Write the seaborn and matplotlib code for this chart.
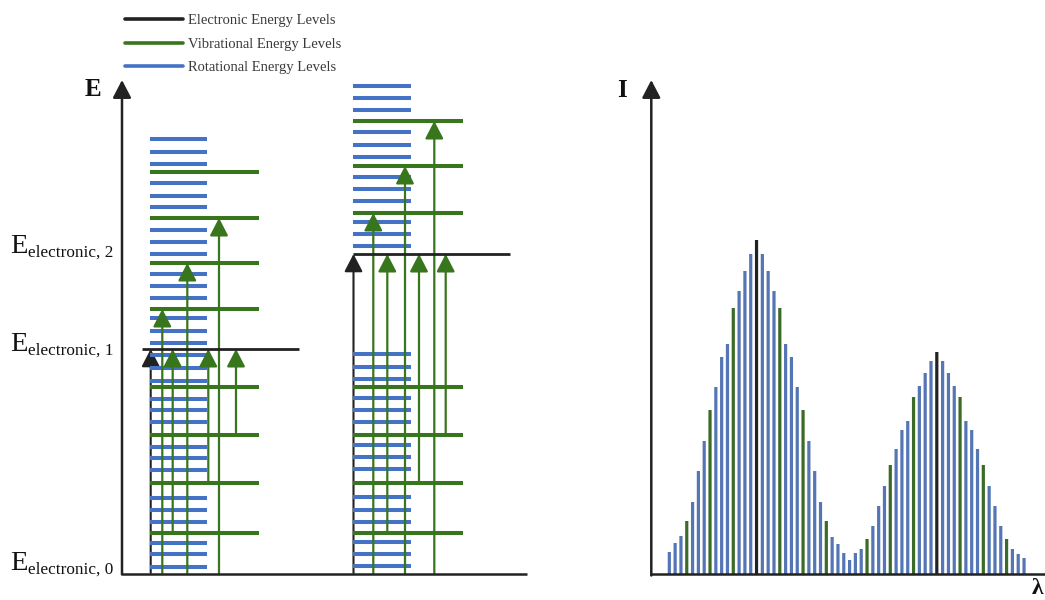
import numpy as np
import pandas as pd
import matplotlib
matplotlib.use("Agg")
import matplotlib.pyplot as plt
from matplotlib.lines import Line2D
import seaborn as sns

# ---------------- energy-level diagram data (arb. units, ground state = 0) ----------------
elec_levels = [0, 224, 319]                      # E_electronic,0 / 1 / 2
elec_names = ["electronic, 0", "electronic, 1", "electronic, 2"]
vib_ground = [40, 90, 138, 186]
vib_e1 = [264, 310, 355, 401]
vib_e2 = [360, 407, 452]
rot_ground_a = [6, 19, 30, 51, 63, 75, 103, 115, 126, 151, 163, 174, 192, 205, 218]
rot_e1 = [230, 242, 255, 275, 287, 299, 319, 331, 343, 366, 377, 390, 409, 421, 434]
rot_ground_b = [7, 19, 31, 51, 63, 76, 104, 116, 128, 151, 163, 175, 194, 206, 219]
rot_e2 = [327, 339, 351, 372, 384, 396, 416, 428, 441, 463, 475, 487]

# transitions (start energy, end energy)
trans_a_from_ground = [(0, 264), (0, 310), (0, 355)]
trans_a_to_e1 = [(40, 224), (90, 224), (138, 224)]
trans_b_from_ground = [(0, 360), (0, 407), (0, 452)]
trans_b_to_e2 = [(40, 319), (90, 319), (138, 319)]

# ---------------- spectrum data ----------------
intensity = [22, 31, 38, 53, 72, 103, 133, 164, 187, 217, 230, 266, 283, 303, 320, 334,
             320, 303, 283, 266, 230, 217, 187, 164, 133, 103, 72, 53,
             37, 30, 21, 14, 21, 25,
             35, 48, 68, 88, 109, 125, 144, 153, 177, 188, 201, 213, 222,
             213, 201, 188, 177, 153, 144, 125, 109, 88, 68, 48, 35, 25, 20, 16]
vib_lines = [3, 7, 11, 19, 23, 27, 34, 38, 42, 50, 54, 58]
elec_lines = [15, 46]

legend_labels = ["Electronic Energy Levels", "Vibrational Energy Levels", "Rotational Energy Levels"]

# ---------------- style ----------------
sns.set_theme(style="white")
plt.rcParams["font.family"] = ["Liberation Serif", "DejaVu Serif"]

BLACK = "#222222"
GREEN = "#38761d"
BLUE = "#4472c4"
TEXT = "#3a3a3a"

W, H = 1045, 600
fig = plt.figure(figsize=(W / 100, H / 100), dpi=100)

# diagram axes: one unit per pixel, E = 0 on the baseline
ax_d = fig.add_axes([0, 0, 540 / W, 1])
ax_d.set_xlim(0, 540)
ax_d.set_ylim(-27, 573)
ax_d.axis("off")

HEAD = "-|>,head_length=0.54,head_width=0.28"


def arrow(ax, x, y0, y1, color, lw, z):
    ax.annotate("", xy=(x, y1), xytext=(x, y0), zorder=z,
                arrowprops=dict(arrowstyle=HEAD, mutation_scale=20, color=color,
                                lw=lw, shrinkA=0, shrinkB=0))


# energy axis
arrow(ax_d, 122, -1.5, 493, BLACK, 1.8, 6)
ax_d.plot([122, 527], [-1, -1], color=BLACK, lw=1.8, solid_capstyle="butt", zorder=6)

# column A (ground -> E1)
ax_d.hlines(rot_ground_a + rot_e1, 150, 207, color=BLUE, lw=2.9, zorder=2)
ax_d.hlines(vib_ground + vib_e1, 150, 259, color=GREEN, lw=2.9, zorder=3)
ax_d.hlines(elec_levels[1], 142, 299, color=BLACK, lw=2.0, zorder=5)
arrow(ax_d, 150.7, 0, elec_levels[1], BLACK, 1.5, 1)
for x, (a, b) in zip([162.3, 187.3, 219.0], trans_a_from_ground):
    arrow(ax_d, x, a, b, GREEN, 1.6, 4)
for x, (a, b) in zip([172.7, 208.3, 236.0], trans_a_to_e1):
    arrow(ax_d, x, a, b, GREEN, 1.6, 4)

# column B (ground -> E2)
ax_d.hlines(rot_ground_b + rot_e2, 353, 411, color=BLUE, lw=2.9, zorder=2)
ax_d.hlines(vib_ground + vib_e2, 353, 463, color=GREEN, lw=2.9, zorder=3)
ax_d.hlines(elec_levels[2], 353, 510, color=BLACK, lw=2.0, zorder=5)
arrow(ax_d, 353.5, 0, elec_levels[2], BLACK, 1.5, 1)
for x, (a, b) in zip([373.3, 405.0, 434.3], trans_b_from_ground):
    arrow(ax_d, x, a, b, GREEN, 1.6, 4)
for x, (a, b) in zip([387.3, 419.0, 445.7], trans_b_to_e2):
    arrow(ax_d, x, a, b, GREEN, 1.6, 4)

# electronic level labels
for lvl, name, dy in zip(elec_levels, elec_names, [3, -2, 1]):
    ax_d.text(10.5, lvl + dy, "E", fontsize=20.5, color="#111111", va="baseline", ha="left")
    ax_d.text(28.5, lvl + dy - 3.5, name, fontsize=12.4, color="#111111",
              va="baseline", ha="left")

ax_d.text(93, 573 - 90, "E", fontsize=18, fontweight="bold", color="#111111",
          ha="center", va="center")

# legend
handles = [Line2D([], [], color=c, lw=2.6) for c in (BLACK, GREEN, BLUE)]
leg = fig.legend(handles, legend_labels, loc="upper left",
                 bbox_to_anchor=(125 / W, 1 - 14 / H), bbox_transform=fig.transFigure,
                 frameon=False, fontsize=10.5, handlelength=4.0, handletextpad=0.35,
                 labelspacing=0.7, borderpad=0, borderaxespad=0)
for t in leg.get_texts():
    t.set_color(TEXT)

# ---------------- spectrum ----------------
kind = ["rot"] * len(intensity)
for i in vib_lines:
    kind[i] = "vib"
for i in elec_lines:
    kind[i] = "elec"
spec = pd.DataFrame({"line": np.arange(len(intensity)), "I": intensity, "kind": kind})

ax_s = fig.add_axes([651 / W, 26 / H, 394 / W, 574 / H])
sns.barplot(data=spec, x="line", y="I", hue="kind",
            palette={"rot": BLUE, "vib": GREEN, "elec": BLACK},
            native_scale=True, dodge=False, width=0.55, linewidth=0,
            errorbar=None, legend=False, ax=ax_s)
for bar in ax_s.patches:
    bar.set_snap(False)
x0 = -3.15
ax_s.set_xlim(x0, x0 + 394 / 5.815)
ax_s.set_ylim(0, 574)
ax_s.axis("off")
arrow(ax_s, x0 + 0.05, -1.5, 494, BLACK, 1.8, 6)
ax_s.plot([x0, x0 + 394 / 5.815], [0, 0], color=BLACK, lw=1.8, clip_on=False, zorder=6)

fig.text(621.7 / W, 1 - 91 / H, "I", fontsize=18, fontweight="bold", color="#111111",
         ha="center", va="center")
fig.text(1043 / W, 1 - 589 / H, "λ", fontsize=17, fontweight="bold", color="#111111",
         ha="right", va="center")

fig.savefig("out.png", dpi=100, facecolor="white")
